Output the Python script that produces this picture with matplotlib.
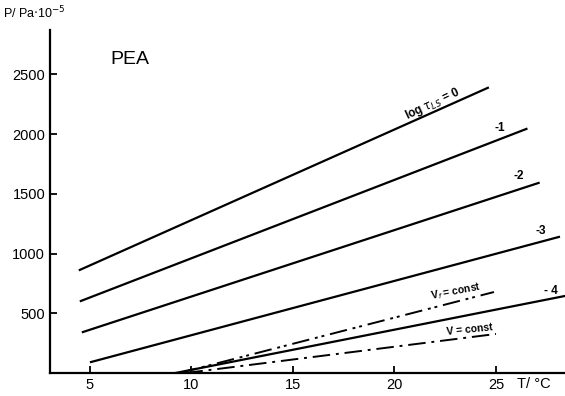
import numpy as np
import matplotlib.pyplot as plt

# isochrone lines, log tau_LS values, start/end temperature and pressure
labels = ["log $\\tau_{LS}$ = 0", "-1", "-2", "-3", "- 4"]
t_start = [4.5, 4.55, 4.65, 5.05, 9.2]
t_end = [24.6, 26.5, 27.1, 28.1, 28.4]
p_start = [863, 603, 343, 92, 0]
p_end = [2387, 2043, 1591, 1139, 645]

# Vf = const and V = const lines
vf_t = [9.4, 24.9]
vf_p = [0, 678]
v_t = [9.7, 25.0]
v_p = [0, 327]

plt.rcParams['font.family'] = ['Liberation Sans', 'DejaVu Sans']

fig = plt.figure(figsize=(5.65, 3.96), dpi=100)
ax = fig.add_axes([0.0885, 0.058, 0.9115, 0.866])

for i in range(len(labels)):
    ax.plot([t_start[i], t_end[i]], [p_start[i], p_end[i]], color='black', lw=1.6)

ax.plot(vf_t, vf_p, color='black', lw=1.4, dashes=[9, 3, 1.5, 2, 1.5, 3])
ax.plot(v_t, v_p, color='black', lw=1.4, dashes=[9, 3, 1.5, 3])

ax.text(21.9, 2250, labels[0], rotation=25, fontsize=8.5, fontweight='bold',
        ha='center', va='center')
ax.text(25.2, 2025, labels[1], fontsize=8.5, fontweight='bold', ha='center')
ax.text(26.1, 1620, labels[2], fontsize=8.5, fontweight='bold', ha='center')
ax.text(27.2, 1165, labels[3], fontsize=8.5, fontweight='bold', ha='center')
ax.text(27.7, 665, labels[4], fontsize=8.5, fontweight='bold', ha='center')
ax.text(23.0, 615, "V$_f$ = const", rotation=11, fontsize=7.5, fontweight='bold',
        ha='center')
ax.text(23.7, 320, "V = const", rotation=6, fontsize=7.5, fontweight='bold',
        ha='center')

ax.text(6.0, 2585, "PEA", fontsize=14)

ax.set_xlim(3.03, 28.4)
ax.set_ylim(0, 2870)
ax.set_xticks([5, 10, 15, 20, 25])
ax.set_yticks([500, 1000, 1500, 2000, 2500])
ax.tick_params(direction='in', length=5, width=1.3, labelsize=10.5)
for s in ['top', 'right']:
    ax.spines[s].set_visible(False)
for s in ['left', 'bottom']:
    ax.spines[s].set_linewidth(1.6)

fig.text(0.005, 0.955, "P/ Pa$\\cdot$10$^{-5}$", fontsize=9)
fig.text(0.945, 0.02, "T/ °C", fontsize=10.5, ha='center')

fig.savefig("out.png", dpi=100)
